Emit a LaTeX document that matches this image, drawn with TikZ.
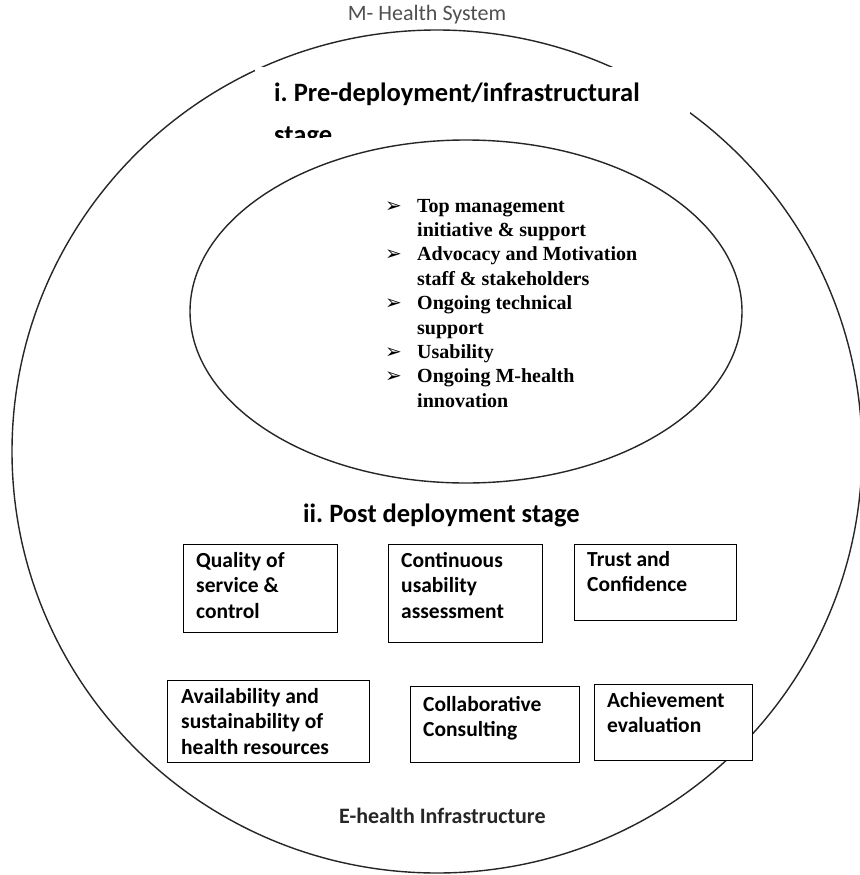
\documentclass[tikz,border=0pt]{standalone}
\usepackage{fontspec}
\setmainfont{Carlito}
\newfontfamily\tnr{Liberation Serif}
\newfontfamily\dvs{DejaVu Sans}
\usetikzlibrary{shapes.geometric}
\definecolor{lblgray}{HTML}{505050}
\definecolor{infgray}{HTML}{262626}
\frenchspacing
\newcommand{\bul}{{\dvs\bfseries\fontsize{20}{20}\selectfont ➢}}
\newcommand{\itm}[1]{\makebox[32pt][l]{\raisebox{0pt}{\bul}}#1}
\newcommand{\cnt}[1]{\hspace*{32pt}#1}
\begin{document}
\begin{tikzpicture}[x=1pt,y=-1pt,
  ring/.style={draw=black!85, line width=1.4pt, ellipse, inner sep=0pt, outer sep=0pt},
  box/.style={draw=black, fill=white, line width=1.3pt, rectangle, inner sep=0pt, anchor=north west},
  boxtxt/.style={anchor=base west, inner sep=0pt, align=flush left, text width=200pt,
    font=\frenchspacing\bfseries\fontsize{21.5}{25.5}\selectfont},
  stagetxt/.style={anchor=base west, inner sep=0pt, align=flush left, text width=430pt,
    font=\frenchspacing\bfseries\fontsize{26.5}{41.3}\selectfont}]
\useasboundingbox (0,0) rectangle (859,875);
\fill[white] (0,0) rectangle (859,875);

% outer system ring
\node[ring, minimum width=850pt, minimum height=843pt] (outer) at (437,451.5) {};
% white label plate covering the ring
\fill[white] (255,67) rectangle (690,137);
\begin{scope}
  \clip (255,67) rectangle (690,137);
  \node[stagetxt] (pre) at (274,101.7) {i. Pre-deployment/infrastructural\\stage};
\end{scope}

% inner ellipse
\node[ring, minimum width=552pt, minimum height=343pt] (inner) at (466,311.5) {};
\node[anchor=base west, inner sep=0pt, align=flush left, text width=280pt,
  font=\frenchspacing\tnr\bfseries\fontsize{20}{24.4}\selectfont] (list) at (385,212)
  {\itm{Top management}\\
   \cnt{initiative \& support}\\
   \itm{Advocacy and Motivation}\\
   \cnt{staff \& stakeholders}\\
   \itm{Ongoing technical}\\
   \cnt{support}\\
   \itm{Usability}\\
   \itm{Ongoing M-health}\\
   \cnt{innovation}};

% labels
\node[anchor=base, inner sep=0pt, text=lblgray, font=\fontsize{22}{26}\selectfont] (msys) at (427,21) {M- Health System};
\node[anchor=base west, inner sep=0pt, text=infgray, font=\bfseries\fontsize{22}{26}\selectfont] (ehi) at (339,823) {E-health Infrastructure};
\node[stagetxt] (post) at (303,522) {ii. Post deployment stage};

% boxes
\node[box, minimum width=154pt, minimum height=88pt] (b1) at (183,544) {};
\node[box, minimum width=154pt, minimum height=98pt] (b2) at (388,544) {};
\node[box, minimum width=162pt, minimum height=76pt] (b3) at (574,544) {};
\node[box, minimum width=202pt, minimum height=82pt] (b4) at (167,680) {};
\node[box, minimum width=169pt, minimum height=76pt] (b5) at (410,686) {};
\node[box, minimum width=158pt, minimum height=76pt] (b6) at (594,684) {};

\node[boxtxt] (t1) at (196,567) {Quality of\\service \&\\control};
\node[boxtxt] (t2) at (401,567) {Continuous\\usability\\assessment};
\node[boxtxt] (t3) at (587,566) {Trust and\\Confidence};
\node[boxtxt] (t4) at (181,703) {Availability and\\sustainability of\\health resources};
\node[boxtxt] (t5) at (423,711) {Collaborative\\Consulting};
\node[boxtxt] (t6) at (607,707) {Achievement\\evaluation};
\end{tikzpicture}
\end{document}
